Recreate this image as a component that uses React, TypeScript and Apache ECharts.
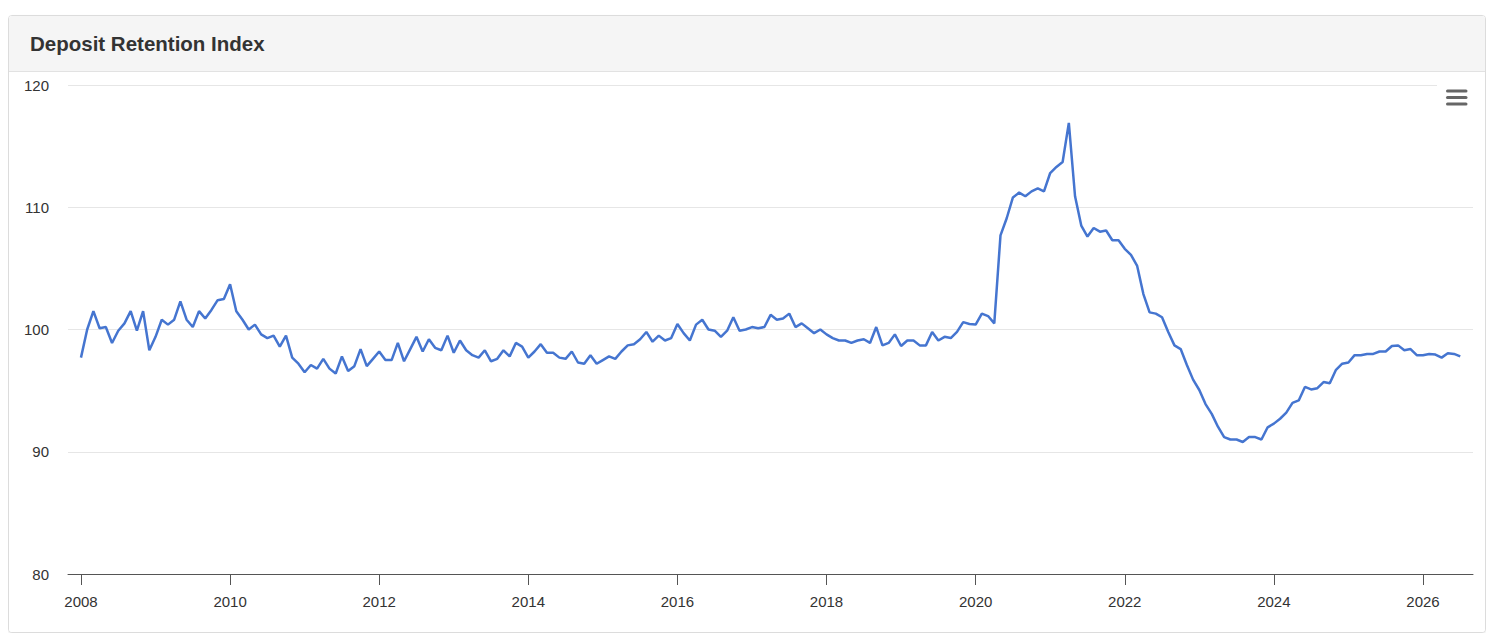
import React, { useEffect, useRef } from "react";
import * as echarts from "echarts";

const TITLE = "Deposit Retention Index";
const START_YEAR = 2008; // first point: January 2008, monthly data

const v2008 = [97.7, 100.0, 101.5, 100.1, 100.2, 98.9, 99.9, 100.5, 101.5, 99.9, 101.5, 98.3];
const v2009 = [99.4, 100.8, 100.4, 100.8, 102.3, 100.8, 100.2, 101.5, 100.9, 101.6, 102.4, 102.5];
const v2010 = [103.7, 101.5, 100.8, 100.0, 100.4, 99.6, 99.3, 99.5, 98.6, 99.5, 97.7, 97.2];
const v2011 = [96.5, 97.1, 96.8, 97.6, 96.8, 96.4, 97.8, 96.6, 97.0, 98.4, 97.0, 97.6];
const v2012 = [98.2, 97.5, 97.5, 98.9, 97.4, 98.4, 99.4, 98.2, 99.2, 98.5, 98.3, 99.5];
const v2013 = [98.1, 99.1, 98.3, 97.9, 97.7, 98.3, 97.4, 97.6, 98.3, 97.8, 98.9, 98.6];
const v2014 = [97.7, 98.2, 98.8, 98.1, 98.1, 97.7, 97.6, 98.2, 97.3, 97.2, 97.9, 97.2];
const v2015 = [97.5, 97.8, 97.6, 98.2, 98.7, 98.8, 99.2, 99.8, 99.0, 99.5, 99.1, 99.3];
const v2016 = [100.45, 99.7, 99.1, 100.4, 100.8, 100.0, 99.9, 99.4, 99.9, 101.0, 99.9, 100.0];
const v2017 = [100.2, 100.1, 100.2, 101.2, 100.8, 100.9, 101.3, 100.2, 100.5, 100.1, 99.7, 100.0];
const v2018 = [99.6, 99.3, 99.1, 99.1, 98.9, 99.1, 99.2, 98.9, 100.2, 98.7, 98.9, 99.6];
const v2019 = [98.65, 99.1, 99.1, 98.7, 98.7, 99.8, 99.1, 99.4, 99.3, 99.8, 100.6, 100.45];
const v2020 = [100.4, 101.3, 101.1, 100.5, 107.7, 109.1, 110.8, 111.2, 110.9, 111.3, 111.55, 111.3];
const v2021 = [112.8, 113.3, 113.7, 116.9, 110.9, 108.5, 107.6, 108.3, 108.0, 108.1, 107.3, 107.3];
const v2022 = [106.6, 106.1, 105.2, 102.9, 101.4, 101.3, 101.0, 99.8, 98.7, 98.4, 97.1, 95.9];
const v2023 = [95.05, 93.9, 93.1, 92.05, 91.2, 91.0, 91.0, 90.8, 91.2, 91.2, 91.0, 92.0];
const v2024 = [92.3, 92.7, 93.2, 94.0, 94.2, 95.3, 95.1, 95.2, 95.7, 95.6, 96.7, 97.2];
const v2025 = [97.3, 97.9, 97.9, 98.0, 98.0, 98.2, 98.2, 98.65, 98.7, 98.3, 98.4, 97.9];
const v2026 = [97.9, 98.0, 97.95, 97.7, 98.05, 98.0, 97.8];

const yearLabels = [2008, 2010, 2012, 2014, 2016, 2018, 2020, 2022, 2024, 2026];
const X_MIN = 2007.826;
const X_MAX = 2026.671;
const Y_MIN = 80;
const Y_MAX = 120;
const Y_STEP = 10;

const allValues = [
  ...v2008, ...v2009, ...v2010, ...v2011, ...v2012, ...v2013, ...v2014,
  ...v2015, ...v2016, ...v2017, ...v2018, ...v2019, ...v2020, ...v2021,
  ...v2022, ...v2023, ...v2024, ...v2025, ...v2026,
];

const FONT = "'Liberation Sans', Arial, Helvetica, sans-serif";

export default function App() {
  const ref = useRef<HTMLDivElement>(null);
  useEffect(() => {
    if (!ref.current) return;
    const chart = echarts.init(ref.current, null, { renderer: "svg" });
    const data = allValues.map((v, i) => [START_YEAR + i / 12, v]);
    chart.setOption({
      animation: false,
      backgroundColor: "#ffffff",
      textStyle: { fontFamily: FONT },
      title: {
        text: TITLE,
        left: 16,
        top: 12,
        textStyle: { fontFamily: FONT, fontSize: 20.5, fontWeight: "bold", color: "#333333" },
      },
      grid: { left: 59, right: 12, top: 69, bottom: 58, containLabel: false },
      xAxis: {
        type: "value",
        min: X_MIN,
        max: X_MAX,
        splitLine: { show: false },
        axisLine: { show: true, lineStyle: { color: "#555555", width: 1 } },
        axisTick: { show: true, length: 11, customValues: yearLabels, lineStyle: { color: "#555555", width: 1 } },
        axisLabel: {
          customValues: yearLabels,
          margin: 20,
          color: "#333333",
          fontSize: 15,
          fontFamily: FONT,
          formatter: (v: number) => String(Math.round(v)),
        },
      },
      yAxis: {
        type: "value",
        min: Y_MIN,
        max: Y_MAX,
        interval: Y_STEP,
        axisLine: { show: false },
        axisTick: { show: false },
        splitLine: { show: true, lineStyle: { color: "#e6e6e6", width: 1 } },
        axisLabel: { margin: 19, color: "#333333", fontSize: 15, fontFamily: FONT },
      },
      series: [
        {
          type: "line",
          data,
          showSymbol: false,
          symbol: "none",
          lineStyle: { color: "#4575d0", width: 2.5 },
          itemStyle: { color: "#4575d0" },
          z: 3,
        },
      ],
      graphic: [
        { type: "rect", z: -10, shape: { x: 0, y: 0, width: 1476, height: 55 }, style: { fill: "#f5f5f5" } },
        { type: "line", z: -9, shape: { x1: 0, y1: 55.5, x2: 1476, y2: 55.5 }, style: { stroke: "#e2e2e2", lineWidth: 1 } },
        { type: "rect", z: 10, shape: { x: 1428, y: 66, width: 44, height: 6 }, style: { fill: "#ffffff" } },
        { type: "rect", z: 11, shape: { x: 1437, y: 73.5, width: 21.5, height: 3, r: 1.5 }, style: { fill: "#666666" } },
        { type: "rect", z: 11, shape: { x: 1437, y: 80, width: 21.5, height: 3, r: 1.5 }, style: { fill: "#666666" } },
        { type: "rect", z: 11, shape: { x: 1437, y: 86.5, width: 21.5, height: 3, r: 1.5 }, style: { fill: "#666666" } },
      ],
    });
    return () => chart.dispose();
  }, []);
  return (
    <div style={{ paddingTop: 7 }}>
      <div
        style={{
          border: "1px solid #dcdcdc",
          borderRadius: 4,
          boxShadow: "0 1px 2px rgba(0,0,0,0.08)",
          background: "#ffffff",
          overflow: "hidden",
        }}
      >
        <div ref={ref} style={{ width: 1476, height: 616 }} />
      </div>
    </div>
  );
}
